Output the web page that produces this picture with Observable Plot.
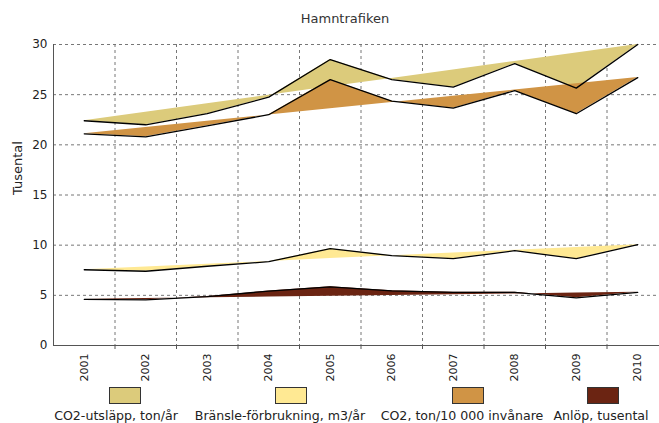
<!DOCTYPE html>
<html><head><meta charset="utf-8">
<script src="https://cdn.jsdelivr.net/npm/d3@7"></script>
<script src="https://cdn.jsdelivr.net/npm/@observablehq/plot@0.6"></script>
<style>
body{margin:0;background:#fff;overflow:hidden;font-family:"DejaVu Sans",Verdana,sans-serif;color:#222;}
#wrap{position:relative;width:659px;height:423px;overflow:hidden;}
#title{position:relative;height:34px;}
#title span{position:absolute;left:345px;top:11px;transform:translateX(-50%);font-size:13px;white-space:nowrap;color:#333;}
#chart svg{display:block;}
.sw{position:absolute;width:30px;height:15px;border:1px solid #333;box-sizing:content-box;}
.lb{position:absolute;font-size:12.6px;white-space:nowrap;transform:translateX(-50%);line-height:14px;}
</style></head><body>
<div id="wrap">
<div id="title"><span>Hamntrafiken</span></div>
<div id="chart"></div>
<div id="legend"></div>
</div>
<script>
const years = [2001, 2002, 2003, 2004, 2005, 2006, 2007, 2008, 2009, 2010];
const co2Utslapp = [22.4, 22.0, 23.1, 24.75, 28.5, 26.5, 25.75, 28.1, 25.65, 30.0];
const bransle = [7.55, 7.4, 7.9, 8.35, 9.65, 8.95, 8.65, 9.45, 8.65, 10.05];
const co2PerInv = [21.1, 20.8, 21.9, 23.0, 26.5, 24.35, 23.65, 25.4, 23.1, 26.7];
const anlop = [4.6, 4.55, 4.88, 5.42, 5.85, 5.45, 5.3, 5.3, 4.75, 5.3];
const seriesNames = ["CO2-utsläpp, ton/år", "Bränsle-förbrukning, m3/år", "CO2, ton/10 000 invånare", "Anlöp, tusental"];
const seriesColors = ["#DCCB7B", "#FFE993", "#D09445", "#6B2412"];
const yTicks = [0, 5, 10, 15, 20, 25, 30];
const titleText = "Hamntrafiken";
const yLabel = "Tusental";

const seriesValues = [co2Utslapp, bransle, co2PerInv, anlop];
const rows = [];
seriesValues.forEach((vals, s) => {
  const n = vals.length, a = vals[0], b = vals[n - 1];
  vals.forEach((v, i) => rows.push({series: seriesNames[s], year: years[i], value: v, base: a + (b - a) * i / (n - 1)}));
});
const bounds = years.slice(1).map(y => y - 0.5);

const plot = Plot.plot({
  width: 659, height: 351,
  marginTop: 10, marginBottom: 40, marginLeft: 53, marginRight: 0,
  style: {fontFamily: "DejaVu Sans", fontSize: "12px", overflow: "hidden", background: "white", color: "#222"},
  x: {domain: [2000.5, 2010.5], range: [53, 668]},
  y: {domain: [0, 30]},
  color: {domain: seriesNames, range: seriesColors},
  marks: [
    Plot.gridY(yTicks.slice(1), {stroke: "#777", strokeOpacity: 1, strokeDasharray: "3,3"}),
    Plot.gridX(bounds, {stroke: "#777", strokeOpacity: 1, strokeDasharray: "3,3"}),
    Plot.areaY(rows, {x: "year", y1: "base", y2: "value", z: "series", fill: "series", fillOpacity: 1}),
    Plot.lineY(rows, {x: "year", y: "value", z: "series", stroke: "black", strokeWidth: 1.3}),
    Plot.ruleX([2000.5], {stroke: "#555"}),
    Plot.ruleY([0], {stroke: "#555"}),
    Plot.axisY({ticks: yTicks, tickSize: 0, tickPadding: 6, label: null, tickFormat: d => String(d)}),
    Plot.axisX({ticks: years, tickSize: 0, tickPadding: 8, tickRotate: -90, tickFormat: d => String(d), label: null, fontSize: 11}),
    Plot.axisX({ticks: bounds, tickSize: 4, tickFormat: () => "", label: null, stroke: "#555"}),
    Plot.text([yLabel], {text: d => d, frameAnchor: "left", rotate: -90, dx: -36, fontSize: 13})
  ]
});
document.getElementById("chart").appendChild(plot);

const swatchX = [124.5, 290.5, 467.5, 602.5];
const labelX = [116, 280, 462, 601];
const legend = document.getElementById("legend");
seriesNames.forEach((name, i) => {
  const sw = document.createElement("div");
  sw.className = "sw";
  sw.style.left = (swatchX[i] - 16) + "px";
  sw.style.top = "387px";
  sw.style.background = seriesColors[i];
  legend.appendChild(sw);
  const lb = document.createElement("div");
  lb.className = "lb";
  lb.style.left = labelX[i] + "px";
  lb.style.top = "409px";
  lb.textContent = name;
  legend.appendChild(lb);
});
</script>
</body></html>
